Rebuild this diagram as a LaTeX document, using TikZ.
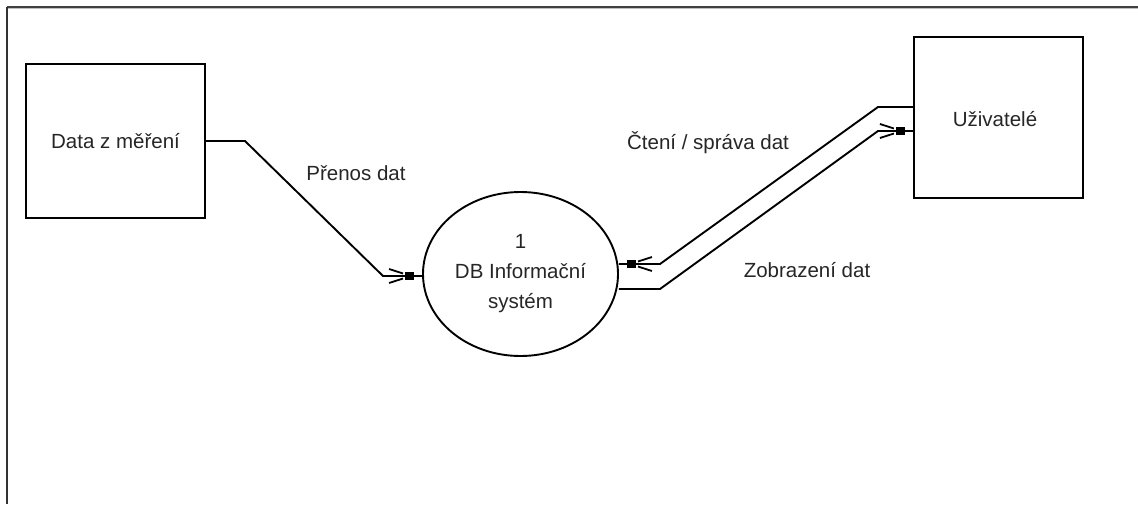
\documentclass[tikz,border=0pt]{standalone}
\usepackage{fontspec}
\setmainfont{Liberation Sans}
\usetikzlibrary{shapes.geometric}
\tikzset{
  box/.style={draw, line width=2.1pt, inner sep=0pt},
  proc/.style={draw, ellipse, line width=1.9pt, inner sep=0pt},
  flow/.style={line width=1.9pt},
  lbl/.style={inner sep=0pt, text=black!85, font=\fontsize{20.5}{30}\selectfont},
  flowhead/.pic={
    \fill (-17,-3.8) rectangle (-8,3.8);
    \draw[line width=1.8pt] (-33,-7) -- (-19,-2.5);
    \draw[line width=1.8pt] (-33,7) -- (-19,2.5);
  }
}
\begin{document}
\begin{tikzpicture}[x=1pt,y=-1pt]
\useasboundingbox (0,0) rectangle (1138,504);
% frame
\draw[line width=2pt, black!75] (7,6.5) -- (1138,6.5);
\draw[line width=1pt, black!25] (7,8.8) -- (1138,8.8);
\draw[line width=1.1pt, black!80] (7,7) -- (7,504);
% nodes
\node[box, minimum width=179pt, minimum height=154pt] (data) at (115.5,141) {};
\node[lbl] (datat) at (data.center) {Data z měření};
\node[box, minimum width=169pt, minimum height=161pt] (usr) at (998.5,117.5) {};
\node[lbl] (usrt) at (995,119) {Uživatelé};
\node[proc, minimum width=195pt, minimum height=164pt] (db) at (520.5,274) {};
\node[lbl, align=center] (dbt) at (db.center) {1\\DB Informační\\systém};
% connectors
\coordinate (p1) at (245,141);
\coordinate (p2) at (383,276);
\draw[flow] (data.east) -- (p1) -- (p2) -- (db.west |- p2);
\pic at (db.west |- p2) {flowhead};
\coordinate (u1) at (878,107);
\coordinate (u2) at (660,264);
\draw[flow] (usr.west |- u1) -- (u1) -- (u2) -- (db.east |- u2);
\pic[rotate=180] at (db.east |- u2) {flowhead};
\coordinate (l1) at (660,289);
\coordinate (l2) at (878,131);
\draw[flow] (db.east |- l1) -- (l1) -- (l2) -- (usr.west |- l2);
\pic at (usr.west |- l2) {flowhead};
% labels
\node[lbl] (lp) at (356,173) {Přenos dat};
\node[lbl] (lc) at (708,143) {Čtení / správa dat};
\node[lbl] (lz) at (807,270) {Zobrazení dat};
\end{tikzpicture}
\end{document}
